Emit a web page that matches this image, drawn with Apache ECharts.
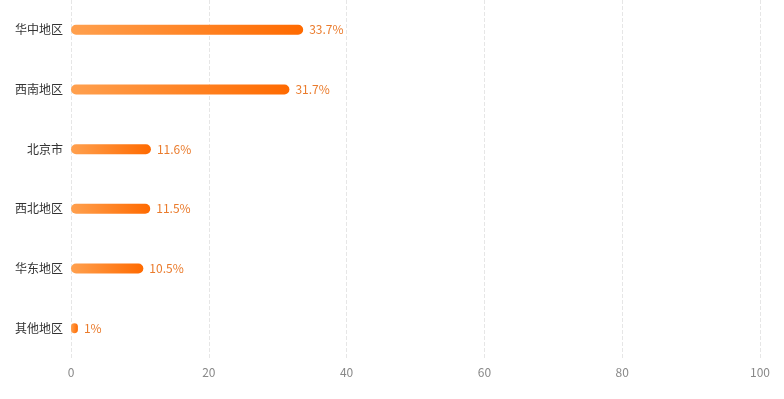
<!DOCTYPE html>
<html><head><meta charset="utf-8">
<script src="https://cdn.jsdelivr.net/npm/echarts@6/dist/echarts.min.js"></script>
<style>html,body{margin:0;padding:0;background:#fff}#c{width:784px;height:399px}</style>
</head><body><div id="c"></div>
<script>
const categories = ['华中地区','西南地区','北京市','西北地区','华东地区','其他地区'];
const values = [33.7, 31.7, 11.6, 11.5, 10.5, 1];
const xTicks = [0, 20, 40, 60, 80, 100];

const chart = echarts.init(document.getElementById('c'));
chart.setOption({
  animation: false,
  grid: {left: 71, right: 24, top: -2, height: 360, containLabel: false},
  textStyle: {fontFamily: '"Noto Sans CJK SC", "Noto Sans", sans-serif'},
  xAxis: {
    type: 'value', min: xTicks[0], max: xTicks[xTicks.length-1], interval: 20,
    axisLine: {show: false}, axisTick: {show: false},
    axisLabel: {color: '#888', fontSize: 12, margin: 8},
    splitLine: {show: true, lineStyle: {type: 'dashed', color: '#e6e6e6'}}
  },
  yAxis: {
    type: 'category', data: categories, inverse: true,
    axisLine: {show: false}, axisTick: {show: false},
    axisLabel: {color: '#333', fontSize: 12, margin: 8}
  },
  series: [{
    type: 'bar', data: values, barWidth: 10,
    itemStyle: {
      borderRadius: 5,
      color: new echarts.graphic.LinearGradient(0, 0, 1, 0, [
        {offset: 0, color: '#FFA04E'}, {offset: 1, color: '#FF6A00'}
      ])
    },
    label: {show: true, position: 'right', distance: 6, color: '#EA7B2C', fontSize: 12,
      formatter: p => p.value + '%'}
  }]
});
</script></body></html>
